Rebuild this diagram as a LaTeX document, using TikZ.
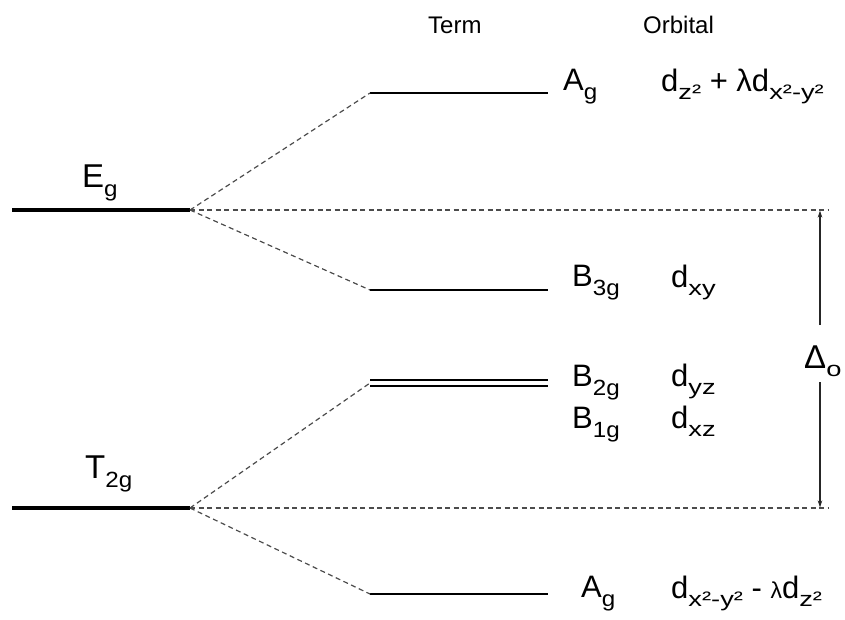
\documentclass[tikz,border=0pt]{standalone}
\usepackage{fontspec}
\setmainfont{Liberation Sans}
\usetikzlibrary{arrows.meta}
% lowered, slightly widened subscripts
\newcommand{\lsub}[1]{\raisebox{-9pt}{\fontsize{22}{22}\selectfont\scalebox{1.1}[1]{#1}}}
\newcommand{\osub}[1]{\raisebox{-8pt}{\fontsize{21}{21}\selectfont\scalebox{1.3}[1]{#1}}}

\begin{document}
\begin{tikzpicture}[x=1pt,y=-1pt,
  level/.style={line width=2.6pt},
  mainlevel/.style={line width=4pt},
  guide/.style={gray!60!black, line width=1.2pt, dash pattern=on 5pt off 3.5pt},
  span/.style={line width=1.1pt, black!85, -{Stealth[length=7pt,width=4.5pt]}},
  lbl/.style={font=\fontsize{31}{31}\selectfont, inner sep=0pt, anchor=base west},
  big/.style={font=\fontsize{33}{33}\selectfont, inner sep=0pt, anchor=base west},
  head/.style={font=\fontsize{24}{24}\selectfont, inner sep=0pt, anchor=base west}]
\useasboundingbox (0,0) rectangle (845,619);

% unsplit levels
\coordinate (egL) at (12,210);  \coordinate (egR) at (190,210);
\coordinate (tgL) at (12,508);  \coordinate (tgR) at (190,508);
\draw[mainlevel] (egL) -- (egR);
\draw[mainlevel] (tgL) -- (tgR);

% split levels
\coordinate (agL) at (370,93);   \coordinate (agR) at (548,93);
\coordinate (b3L) at (370,290);  \coordinate (b3R) at (548,290);
\coordinate (b2L) at (370,380);  \coordinate (b2R) at (548,380);
\coordinate (b1L) at (370,386);  \coordinate (b1R) at (548,386);
\coordinate (a2L) at (370,594);  \coordinate (a2R) at (548,594);
\coordinate (bmid) at (370,383);
\foreach \l in {ag,b3,b2,b1,a2} \draw[level] (\l L) -- (\l R);

% correlation lines
\draw[guide] (egR) -- (agL);
\draw[guide] (egR) -- (b3L);
\draw[guide] (tgR) -- (bmid);
\draw[guide] (tgR) -- (a2L);

% reference lines of the splitting and Delta_o
\coordinate (eE) at (828,210);
\coordinate (tE) at (828,508);
\draw[guide] (egR) -- (eE);
\draw[guide] (tgR) -- (tE);
\node[big] (delta) at (804,368) {Δ\osub{o}};
\coordinate (dTop) at (820,325);
\coordinate (dBot) at (820,382);
\coordinate (aTop) at (820,210.5);
\coordinate (aBot) at (820,507.5);
\draw[span] (dTop) -- (aTop);
\draw[span] (dBot) -- (aBot);

% headings
\node[head] (term) at (428,33) {Term};
\node[head] (orb) at (643,33) {Orbital};

% labels of the unsplit levels
\node[big] (eg) at (82,187) {E\lsub{g}};
\node[big] (t2g) at (85,478) {T\lsub{2g}};

% term labels
\node[lbl] (tAg) at (563,90) {A\lsub{g}};
\node[lbl] (tB3) at (572,286) {B\lsub{3g}};
\node[lbl] (tB2) at (572,386) {B\lsub{2g}};
\node[lbl] (tB1) at (572,428) {B\lsub{1g}};
\node[lbl] (tA2) at (581,597) {A\lsub{g}};

% orbital labels
\node[lbl] (oAg) at (661,91) {d\osub{z²} + λd\osub{x²-y²}};
\node[lbl] (oB3) at (671,287) {d\osub{xy}};
\node[lbl] (oB2) at (671,386) {d\osub{yz}};
\node[lbl] (oB1) at (671,428) {d\osub{xz}};
\node[lbl] (oA2) at (671,598) {d\osub{x²-y²} - {\fontsize{23}{23}\selectfont λ}d\osub{z²}};
\end{tikzpicture}
\end{document}
